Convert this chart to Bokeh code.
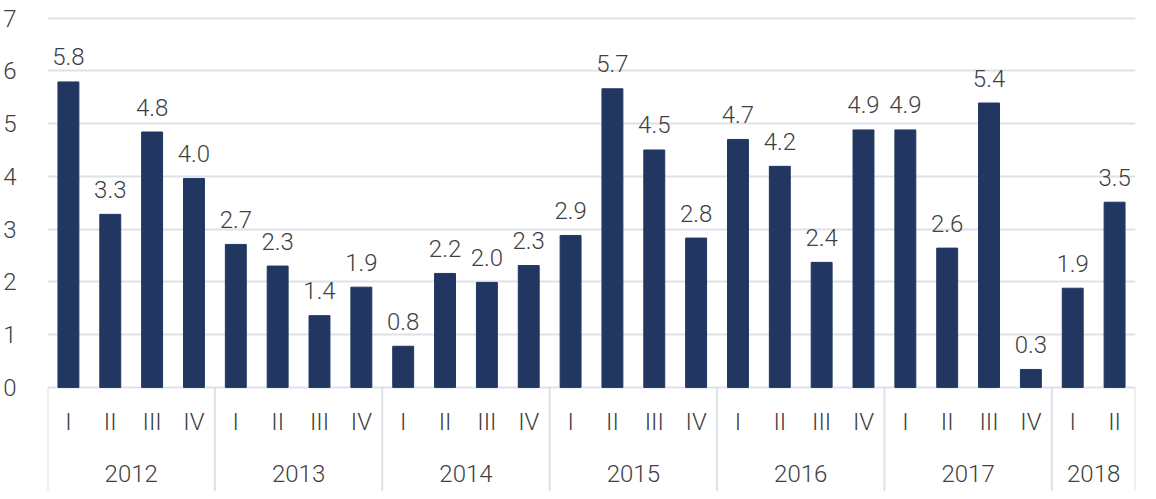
from bokeh.plotting import figure
from bokeh.models import ColumnDataSource, FixedTicker
from bokeh.core.properties import value
from bokeh.embed import file_html
from bokeh.resources import INLINE

years = ["2012", "2013", "2014", "2015", "2016", "2017", "2018"]
quarters_per_year = [4, 4, 4, 4, 4, 4, 2]
quarter_names = ["I", "II", "III", "IV"]
values = [5.79, 3.28, 4.84, 3.96,
          2.71, 2.30, 1.36, 1.90,
          0.78, 2.16, 1.99, 2.31,
          2.88, 5.66, 4.50, 2.83,
          4.70, 4.19, 2.37, 4.88,
          4.88, 2.64, 5.39, 0.34,
          1.88, 3.51]
y_ticks = [0, 1, 2, 3, 4, 5, 6, 7]

BAR = "#213762"
GRID = "#dde1e8"
TXT = "#404040"
FONT = "Roboto Light"

quarter_labels = []
for n in quarters_per_year:
    quarter_labels += quarter_names[:n]
xs = [i + 0.5 for i in range(len(values))]
labels = [f"{v:.1f}" for v in values]

bounds = [0]
for n in quarters_per_year:
    bounds.append(bounds[-1] + n)
year_centers = [(bounds[i] + bounds[i + 1]) / 2 for i in range(len(years))]

n_total = len(values)
y_bottom = -1.973

p = figure(frame_width=1088, frame_height=475, x_range=(0, n_total), y_range=(y_bottom, 7.03),
           output_backend="svg", toolbar_location=None, x_axis_location=None,
           min_border_left=40, min_border_top=16, min_border_bottom=0, min_border_right=4)
p.outline_line_color = None
p.xgrid.visible = False
p.yaxis.ticker = FixedTicker(ticks=y_ticks)
p.ygrid.ticker = FixedTicker(ticks=y_ticks)
p.ygrid.grid_line_color = GRID
p.ygrid.grid_line_width = 2
p.yaxis.axis_line_color = None
p.yaxis.major_tick_line_color = None
p.yaxis.minor_tick_line_color = None
p.yaxis.major_label_standoff = 25
p.yaxis.major_label_text_font = FONT
p.yaxis.major_label_text_font_size = "24px"
p.yaxis.major_label_text_color = TXT

src = ColumnDataSource(dict(x=xs, top=values, label=labels, q=quarter_labels))
p.vbar(x="x", top="top", bottom=0, width=0.5, source=src, fill_color=BAR, line_color=BAR)
p.text(x="x", y="top", text="label", source=src, text_align="center", text_baseline="alphabetic",
       y_offset=-25, text_font=value(FONT), text_font_size="24px", text_color=TXT)

# category axis drawn in the lower part of the frame
p.text(x="x", y=-0.66, text="q", source=src, text_align="center", text_baseline="middle",
       text_font=value(FONT), text_font_size="24px", text_color=TXT)
p.text(x=year_centers, y=[-1.63] * len(years), text=years, text_align="center", text_baseline="middle",
       text_font=value(FONT), text_font_size="24px", text_color=TXT)
p.segment(x0=bounds, y0=[0] * len(bounds), x1=bounds, y1=[y_bottom] * len(bounds),
          line_color=GRID, line_width=2)

open("out.html", "w").write(file_html(p, INLINE))
